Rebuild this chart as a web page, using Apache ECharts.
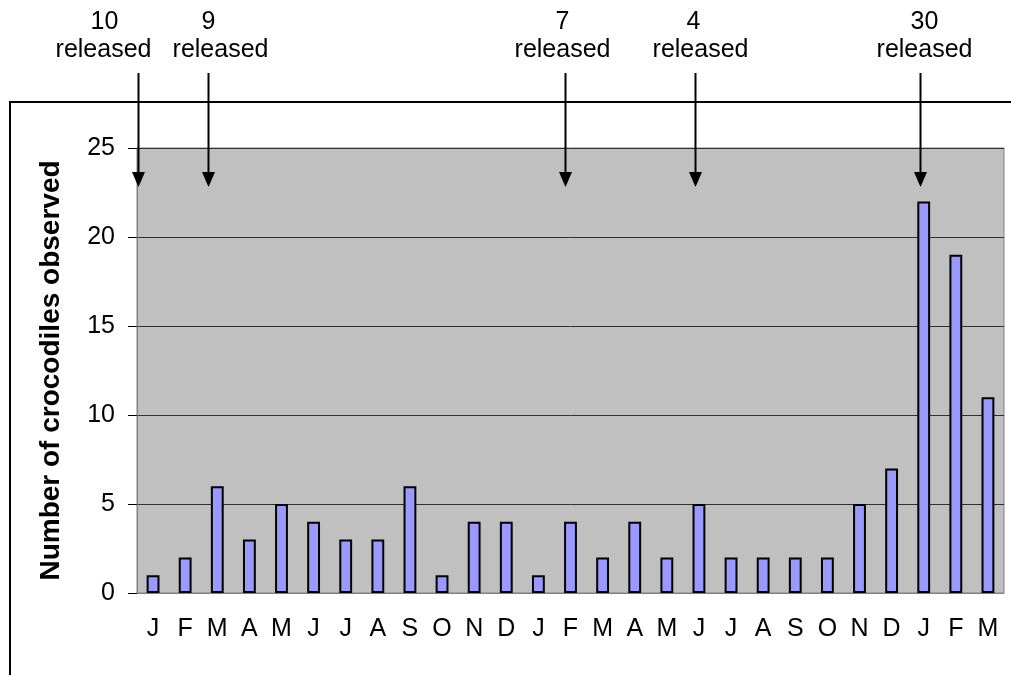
<!DOCTYPE html>
<html>
<head>
<meta charset="utf-8">
<script src="https://cdn.jsdelivr.net/npm/echarts@6.0.0/dist/echarts.min.js"></script>
<style>
  html, body { margin: 0; padding: 0; background: #fff; }
  #chart { width: 1011px; height: 675px; }
</style>
</head>
<body>
<div id="chart"></div>
<script>
// months, Jan of year 1 to Mar of year 3
var months = ['J', 'F', 'M', 'A', 'M', 'J', 'J', 'A', 'S', 'O', 'N', 'D',
              'J', 'F', 'M', 'A', 'M', 'J', 'J', 'A', 'S', 'O', 'N', 'D',
              'J', 'F', 'M'];
var observed = [1, 2, 6, 3, 5, 4, 3, 3, 6, 1, 4, 4,
                1, 4, 2, 4, 2, 5, 2, 2, 2, 2, 5, 7,
                22, 19, 11];
var yTicks = [0, 5, 10, 15, 20, 25];

// releases: how many animals, and when (in months from the start of the axis)
var releaseCounts = [10, 9, 7, 4, 30];
var releaseAt = [0.02, 2.2, 13.33, 17.38, 24.38];

(function () {
  var chartDom = document.getElementById('chart');
  var myChart = echarts.init(chartDom);

  var gridLeft = 137, gridRight = 7, gridTop = 148, gridBottom = 82;
  var font = '"Liberation Sans", Arial, sans-serif';

  var option = {
    animation: false,
    grid: {
      left: gridLeft,
      right: gridRight,
      top: gridTop,
      bottom: gridBottom,
      show: true,
      backgroundColor: '#C0C0C0',
      borderColor: '#808080',
      borderWidth: 1
    },
    xAxis: {
      type: 'category',
      data: months,
      boundaryGap: true,
      axisLine: { lineStyle: { color: '#808080', width: 1 } },
      axisTick: { length: 8, lineStyle: { color: '#000' } },
      axisLabel: {
        color: '#000',
        fontFamily: font,
        fontSize: 25,
        margin: 24,
        interval: 0
      },
      splitLine: { show: false }
    },
    yAxis: {
      type: 'value',
      min: yTicks[0],
      max: yTicks[yTicks.length - 1],
      interval: 5,
      name: 'Number of crocodiles observed',
      nameLocation: 'middle',
      nameGap: 72,
      nameTextStyle: {
        color: '#000',
        fontFamily: font,
        fontSize: 28,
        fontWeight: 'bold'
      },
      axisLine: { show: true, lineStyle: { color: '#808080', width: 1 } },
      axisTick: { show: true, length: 9, lineStyle: { color: '#000' } },
      axisLabel: {
        color: '#000',
        fontFamily: font,
        fontSize: 25,
        margin: 22
      },
      splitLine: { lineStyle: { color: '#303030', width: 1 } }
    },
    series: [
      {
        name: 'observed',
        type: 'bar',
        data: observed,
        barWidth: '40%',
        itemStyle: {
          color: '#9999FF',
          borderColor: '#000',
          borderWidth: 2
        }
      }
    ]
  };
  myChart.setOption(option);

  // outer frame and the release arrows
  var plotW = 1011 - gridLeft - gridRight;
  var step = plotW / months.length;
  var numDx = [-34, 0, -3, -2, 4];
  var relDx = [-35, 12, -3, 5, 4];
  var graphics = [
    { type: 'line', shape: { x1: 9, y1: 102, x2: 1011, y2: 102 }, style: { stroke: '#000', lineWidth: 2 } },
    { type: 'line', shape: { x1: 10, y1: 101, x2: 10, y2: 675 }, style: { stroke: '#000', lineWidth: 2 } }
  ];
  releaseCounts.forEach(function (n, i) {
    var x = Math.round(gridLeft + releaseAt[i] * step) + 0.5;
    graphics.push({
      type: 'line', z: 100,
      shape: { x1: x, y1: 73, x2: x, y2: 176 },
      style: { stroke: '#000', lineWidth: 2 }
    });
    graphics.push({
      type: 'polygon', z: 100,
      shape: { points: [[x - 6.5, 172], [x + 6.5, 172], [x, 187]] },
      style: { fill: '#000' }
    });
    graphics.push({
      type: 'text', z: 100,
      x: x + numDx[i], y: 22,
      style: { text: String(n), font: '25px ' + font, fill: '#000', align: 'center', verticalAlign: 'middle' }
    });
    graphics.push({
      type: 'text', z: 100,
      x: x + relDx[i], y: 50,
      style: { text: 'released', font: '25px ' + font, fill: '#000', align: 'center', verticalAlign: 'middle' }
    });
  });
  myChart.setOption({ graphic: graphics });

  window.addEventListener('resize', function () {
    myChart.resize();
  });
})();
</script>
</body>
</html>
